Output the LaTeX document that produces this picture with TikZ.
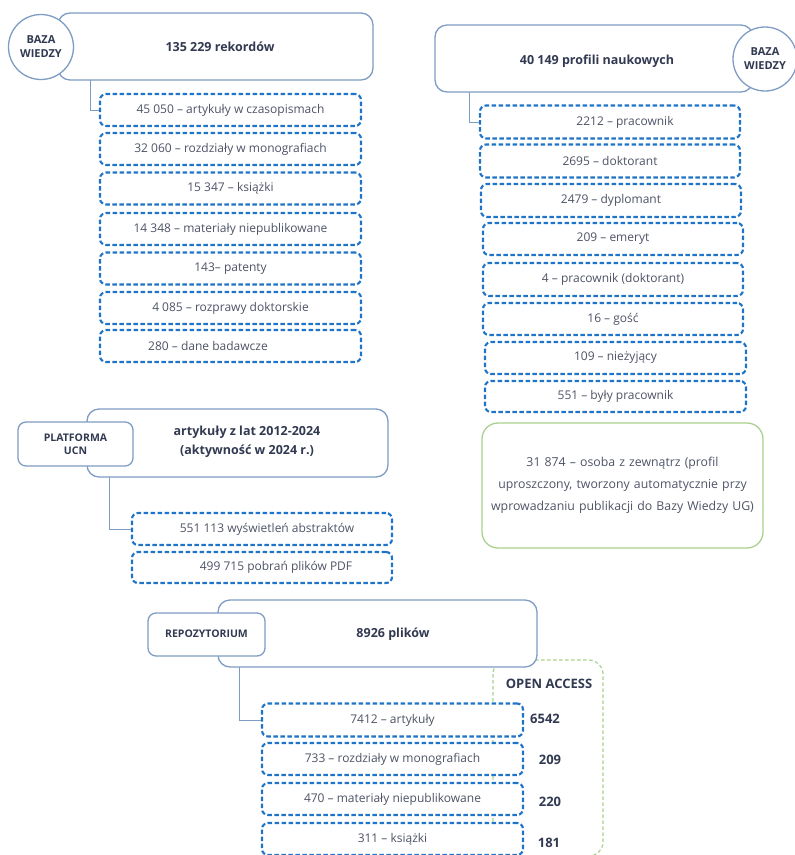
\documentclass[tikz,border=0pt]{standalone}
\usepackage{fontspec}
\setmainfont{Open Sans}
\definecolor{solidc}{HTML}{7F9CC4}
\definecolor{dashc}{HTML}{1F74C8}
\definecolor{greenc}{HTML}{A9D18E}
\definecolor{txtc}{HTML}{4E5366}
\definecolor{boldc}{HTML}{323A52}
\begin{document}
\begin{tikzpicture}[x=1pt,y=-1pt,
  mainbox/.style={draw=solidc, line width=1.3pt, rounded corners=12pt, fill=white, inner sep=0pt},
  tagbox/.style={draw=solidc, line width=1.3pt, rounded corners=8pt, fill=white, inner sep=0pt, align=center, font=\fontsize{10.5}{13.5}\selectfont\bfseries, text=boldc},
  tagcircle/.style={draw=solidc, line width=1.3pt, circle, fill=white, inner sep=0pt, minimum size=65pt, align=center, font=\fontsize{11}{14}\selectfont\bfseries, text=boldc},
  dbox/.style={draw=dashc, line width=2.1pt, dash pattern=on 4.5pt off 2.5pt, rounded corners=6pt, fill=white, inner sep=0pt, font=\fontsize{12}{14}\selectfont, text=txtc},
  headtxt/.style={font=\fontsize{12.5}{19}\selectfont\bfseries, text=boldc, align=center},
  numtxt/.style={font=\fontsize{13}{15}\selectfont\bfseries, text=boldc},
  conn/.style={draw=solidc, line width=1pt},
]
\useasboundingbox (0,0) rectangle (795,855);

% ---------- top left: BAZA WIEDZY records ----------
\node[mainbox, minimum width=315pt, minimum height=67pt] (rek) at (215.5,46.5) {};
\node[headtxt] (rekt) at (220,47) {135 229 rekordów};
\node[tagcircle] (bw1) at (41,47) {BAZA\\WIEDZY};
\coordinate (c1) at (90,80);
\node[dbox, minimum width=261pt, minimum height=32pt] (a1) at (230.5,110) {45 050 – artykuły w czasopismach};
\node[dbox, minimum width=261pt, minimum height=32pt] (a2) at (230.5,149) {32 060 – rozdziały w monografiach};
\node[dbox, minimum width=261pt, minimum height=32pt] (a3) at (230.5,188.5) {15 347 – książki};
\node[dbox, minimum width=261pt, minimum height=32pt] (a4) at (230.5,229) {14 348 – materiały niepublikowane};
\node[dbox, minimum width=261pt, minimum height=32pt] (a5) at (230.5,268.5) {143– patenty};
\node[dbox, minimum width=261pt, minimum height=32pt] (a6) at (230.5,308) {4 085 – rozprawy doktorskie};
\node[dbox, minimum width=261pt, minimum height=32pt] (a7) at (230.5,346) {\hspace*{-45pt}280 – dane badawcze};
\draw[conn] (c1) |- (a1.west);

% ---------- top right: profiles ----------
\node[mainbox, minimum width=318pt, minimum height=67pt] (prof) at (594,58.5) {};
\node[headtxt] (proft) at (597,61) {40 149 profili naukowych};
\node[tagcircle, minimum size=64pt] (bw2) at (765,59) {BAZA\\WIEDZY};
\coordinate (c2) at (469,92);
\node[dbox, minimum width=260pt, minimum height=33pt] (b1) at (610,122) {\hspace*{30pt}2212 – pracownik};
\node[dbox, minimum width=260pt, minimum height=33pt] (b2) at (610,161) {2695 – doktorant};
\node[dbox, minimum width=260pt, minimum height=33pt] (b3) at (611,200.5) {2479 – dyplomant};
\node[dbox, minimum width=260pt, minimum height=32pt] (b4) at (613,239) {209 – emeryt};
\node[dbox, minimum width=260pt, minimum height=33pt] (b5) at (613,279.5) {4 – pracownik (doktorant)};
\node[dbox, minimum width=260pt, minimum height=32pt] (b6) at (613,319) {16 – gość};
\node[dbox, minimum width=261pt, minimum height=32pt] (b7) at (615.5,358) {109 – nieżyjący};
\node[dbox, minimum width=261pt, minimum height=31pt] (b8) at (615.5,396.5) {551 – były pracownik};
\draw[conn] (c2) |- (b1.west);
\node[draw=greenc, line width=1.3pt, rounded corners=16pt, minimum width=281pt, minimum height=125pt, inner sep=0pt, align=center, text width=279pt, font=\fontsize{12.3}{22}\selectfont, text=txtc] (ext) at (622.5,485.5)
  {31 874 – osoba z zewnątrz (profil\\uproszczony, tworzony automatycznie przy\\wprowadzaniu publikacji do Bazy Wiedzy UG)};

% ---------- middle left: PLATFORMA UCN ----------
\node[mainbox, minimum width=301pt, minimum height=68pt] (ucnb) at (237.5,443) {};
\node[headtxt] (ucnt) at (247,441.5) {artykuły z lat 2012-2024\\(aktywność w 2024 r.)};
\node[tagbox, minimum width=115pt, minimum height=44pt] (ucn) at (75.5,444) {PLATFORMA\\UCN};
\coordinate (c3) at (109,477);
\node[dbox, minimum width=260pt, minimum height=32pt] (u1) at (262,529) {\hspace*{10pt}551 113 wyświetleń abstraktów};
\node[dbox, minimum width=260pt, minimum height=31pt] (u2) at (262,567.5) {\hspace*{28pt}499 715 pobrań plików PDF};
\draw[conn] (c3) |- (u1.west);

% ---------- bottom: REPOZYTORIUM ----------
\draw[draw=greenc, line width=1.2pt, dash pattern=on 3.5pt off 2.5pt, rounded corners=14pt] (493,660) rectangle (603,856);
\node[mainbox, minimum width=319pt, minimum height=67pt] (repb) at (377.5,633.5) {};
\node[headtxt] (rept) at (393,634) {8926 plików};
\node[tagbox, minimum width=117pt, minimum height=43pt] (rep) at (206.5,634.5) {\raisebox{2pt}{REPOZYTORIUM}};
\node[numtxt] (oa) at (549,684) {OPEN ACCESS};
\coordinate (c4) at (239,667);
\node[dbox, minimum width=261pt, minimum height=33pt] (r1) at (392.5,720) {7412 – artykuły};
\node[dbox, minimum width=261pt, minimum height=32pt] (r2) at (392.5,759) {733 – rozdziały w monografiach};
\node[dbox, minimum width=261pt, minimum height=32pt] (r3) at (392.5,799) {470 – materiały niepublikowane};
\node[dbox, minimum width=261pt, minimum height=32pt] (r4) at (392.5,839) {311 – książki};
\draw[conn] (c4) |- (r1.west);
\node[numtxt] (n1) at (545,719) {6542};
\node[numtxt] (n2) at (550,760) {209};
\node[numtxt] (n3) at (550,802) {220};
\node[numtxt] (n4) at (549,843) {181};
\end{tikzpicture}
\end{document}
